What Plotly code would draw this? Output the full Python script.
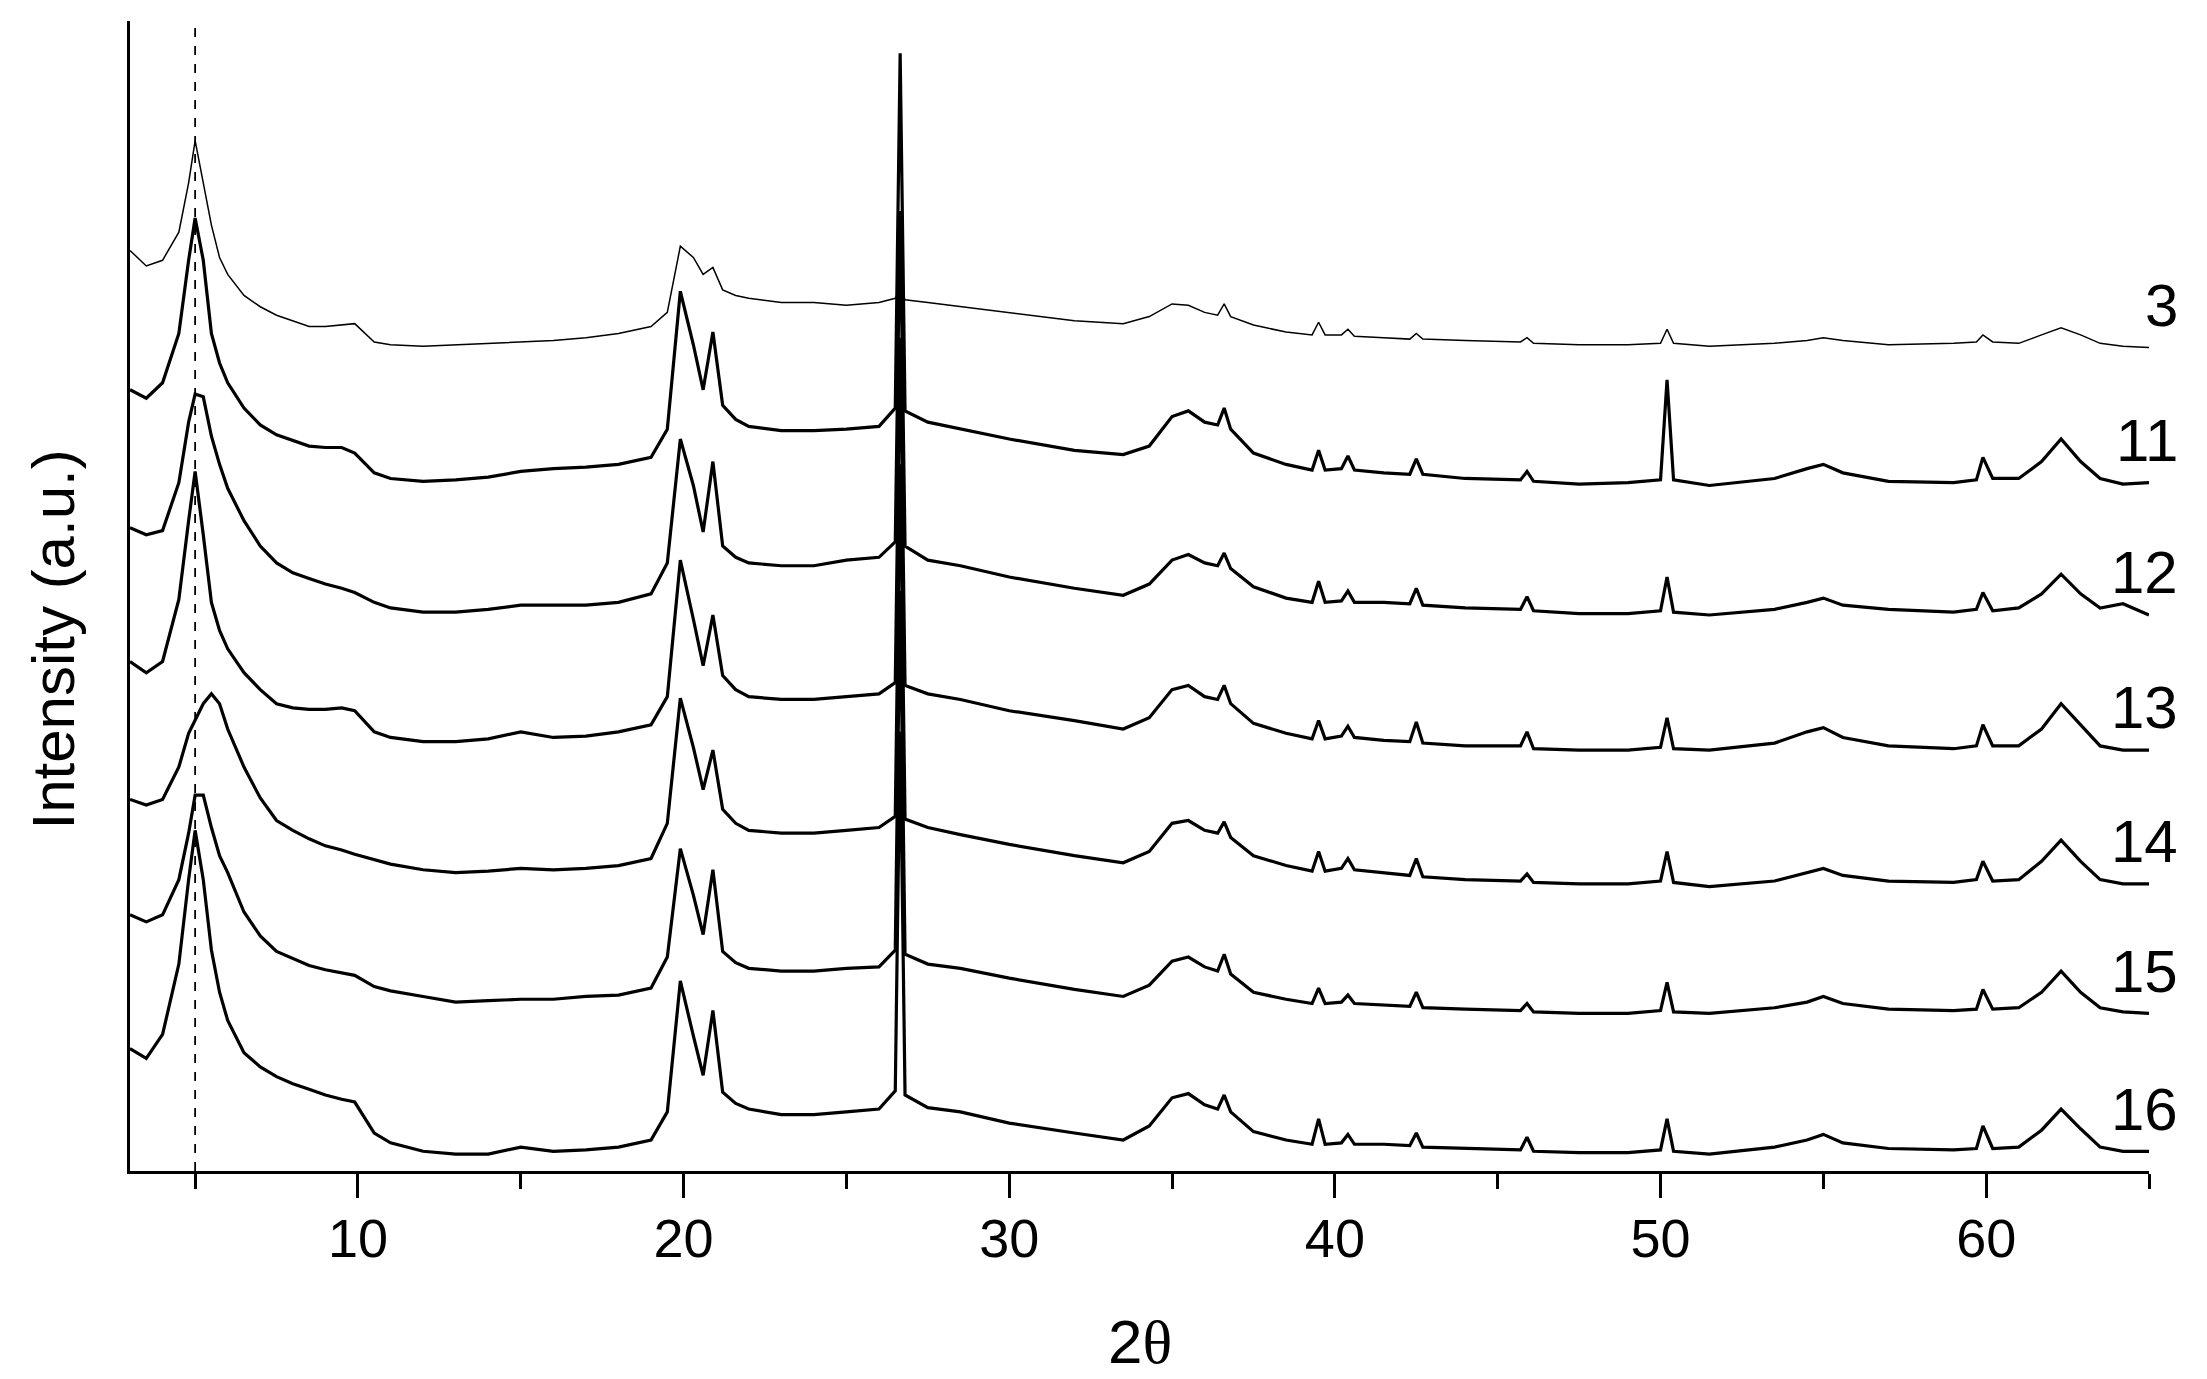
import plotly.graph_objects as go

# 2-theta positions (deg) shared by every pattern
two_theta = [3.0, 3.5, 4.0, 4.5, 4.8, 5.0, 5.25, 5.5, 5.75, 6.0,
             6.5, 7.0, 7.5, 8.0, 8.5, 9.0, 9.5, 9.9, 10.5, 11.0,
             12.0, 13.0, 14.0, 15.0, 16.0, 17.0, 18.0, 19.0,
             19.5, 19.9, 20.3, 20.6, 20.9, 21.2, 21.6, 22.0,
             23.0, 24.0, 25.0, 26.0,
             26.5, 26.65, 26.8,
             27.5, 28.5, 30.0, 32.0, 33.5, 34.3,
             35.0, 35.5, 36.0, 36.4, 36.6, 36.8,
             37.5, 38.5,
             39.3, 39.5, 39.7,
             40.2, 40.4, 40.6,
             41.5,
             42.3, 42.5, 42.7,
             44.0,
             45.7, 45.9, 46.1,
             47.5, 49.0,
             50.0, 50.2, 50.4,
             51.5, 53.5, 54.5, 55.0, 55.6, 57.0, 59.0,
             59.7, 59.9, 60.2,
             61.0, 61.7, 62.3, 62.9, 63.5, 64.2, 65.0]

# intensities (a.u.), above each pattern's own baseline
s3 = [69, 58, 62, 82, 117, 147, 117, 87, 64, 52,
      37, 29, 23, 19, 15, 15, 16, 17, 4, 2,
      1, 2, 3, 4, 5, 7, 10, 15,
      25, 72, 64, 52, 57, 41, 37, 35,
      32, 32, 30, 32,
      35, 42, 34,
      32, 29, 25, 19, 17, 22,
      31, 30, 25, 23, 31, 22,
      16, 11,
      9, 18, 9,
      9, 13, 8,
      7,
      6, 10, 6,
      5,
      4, 7, 3,
      2, 2,
      3, 13, 3,
      1, 3, 5, 7, 5, 2, 3,
      4, 9, 4,
      3, 9, 14, 9, 3, 1, 0]

s11 = [66, 60, 71, 106, 158, 188, 158, 106, 85, 71,
       53, 41, 34, 30, 26, 25, 25, 21, 7, 3,
       1, 2, 4, 8, 10, 11, 13, 18,
       38, 136, 98, 66, 107, 55, 45, 40,
       37, 37, 38, 40,
       53, 305, 51,
       43, 38, 31, 23, 20, 26,
       47, 51, 43, 41, 53, 38,
       21, 13,
       9, 23, 9,
       10, 19, 9,
       7,
       6, 17, 6,
       3,
       2, 8, 1,
       -1, 0,
       2, 73, 2,
       -2, 3, 10, 13, 7, 1, 0,
       2, 18, 3,
       3, 15, 31, 15, 3, -1, 0]

s12 = [62, 57, 60, 94, 137, 157, 155, 127, 107, 90,
       67, 49, 37, 30, 26, 22, 19, 16, 9, 5,
       2, 2, 4, 7, 7, 7, 9, 15,
       37, 125, 92, 59, 109, 49, 41, 37,
       35, 35, 39, 41,
       52, 287, 49,
       39, 35, 27, 19, 14, 22,
       39, 43, 37, 35, 44, 33,
       20, 12,
       9, 24, 9,
       10, 17, 9,
       9,
       8, 19, 7,
       5,
       4, 13, 3,
       1, 1,
       3, 27, 2,
       0, 4, 9, 12, 7, 4, 2,
       4, 16, 3,
       5, 15, 29, 15, 5, 8, 0]

s13 = [63, 55, 63, 107, 163, 198, 153, 105, 85, 72,
       55, 43, 33, 30, 29, 29, 30, 28, 13, 9,
       6, 6, 8, 13, 9, 10, 13, 18,
       38, 135, 93, 60, 96, 53, 43, 38,
       36, 36, 38, 40,
       48, 293, 46,
       40, 36, 28, 21, 15, 23,
       43, 46, 38, 36, 46, 33,
       19, 12,
       8, 21, 8,
       10, 17, 9,
       7,
       6, 20, 5,
       3,
       3, 13, 1,
       0, 0,
       2, 23, 1,
       0, 5, 13, 16, 9, 3, 1,
       3, 18, 3,
       3, 15, 33, 18, 3, 0, 0]

s14 = [60, 56, 60, 83, 107, 116, 128, 135, 128, 110,
       83, 61, 45, 38, 32, 27, 24, 21, 17, 14,
       10, 8, 9, 11, 10, 11, 13, 18,
       43, 132, 97, 67, 95, 53, 43, 38,
       36, 36, 38, 40,
       48, 298, 46,
       40, 35, 28, 20, 15, 23,
       43, 45, 38, 36, 44, 33,
       20, 13,
       9, 23, 9,
       11, 18, 10,
       8,
       6, 18, 5,
       3,
       2, 7, 1,
       0, 0,
       2, 23, 1,
       -2, 2, 8, 11, 6, 2, 1,
       3, 16, 2,
       3, 16, 31, 16, 3, 0, 0]

s15 = [70, 65, 70, 95, 128, 155, 155, 132, 112, 100,
       72, 55, 44, 39, 34, 31, 29, 27, 19, 16,
       12, 8, 9, 10, 10, 12, 13, 18,
       40, 117, 84, 56, 102, 44, 36, 32,
       30, 30, 32, 33,
       45, 300, 42,
       35, 32, 25, 17, 12, 20,
       37, 40, 33, 30, 42, 28,
       15, 10,
       7, 18, 7,
       8, 13, 7,
       6,
       5, 15, 4,
       3,
       2, 7, 1,
       0, 0,
       2, 22, 1,
       0, 4, 8, 12, 7, 3, 2,
       3, 17, 3,
       4, 15, 30, 15, 4, 1, 0]

s16 = [73, 66, 83, 133, 193, 228, 193, 143, 113, 93,
       70, 60, 53, 48, 44, 40, 37, 35, 13, 6,
       0, -2, -2, 3, 0, 1, 3, 8,
       28, 121, 82, 54, 100, 42, 34, 30,
       26, 26, 28, 30,
       43, 298, 40,
       31, 28, 20, 13, 8, 18,
       38, 41, 33, 30, 40, 28,
       14, 8,
       5, 23, 5,
       6, 12, 5,
       5,
       4, 13, 3,
       2,
       1, 10, 0,
       -1, -1,
       1, 23, 0,
       -2, 3, 8, 12, 6, 2, 1,
       2, 18, 2,
       3, 15, 30, 16, 3, 0, 0]

sample_names = ["3", "11", "12", "13", "14", "15", "16"]
patterns = [s3, s11, s12, s13, s14, s15, s16]
offsets = [585, 489, 395, 299, 204, 112, 14]
line_widths = [1.5, 3.2, 3.2, 3.2, 3.2, 3.2, 3.2]

fig = go.Figure()
for name, ys, off, lw in zip(sample_names, patterns, offsets, line_widths):
    fig.add_trace(go.Scatter(
        x=two_theta, y=[v + off for v in ys],
        mode="lines", name=name,
        line=dict(color="black", width=lw),
        showlegend=False, hoverinfo="skip"))
    fig.add_annotation(
        x=1.0153, xref="paper", xanchor="right",
        y=off + 30, yref="y", yanchor="middle",
        text=name, showarrow=False,
        font=dict(size=60, color="black"))

# reference line at the basal reflection
fig.add_shape(type="line", x0=5, x1=5, xref="x", y0=0, y1=1, yref="paper",
              line=dict(color="black", width=1.8, dash="dash"))

fig.add_annotation(
    x=0.5, xref="paper", xanchor="center",
    y=-0.148, yref="paper", yanchor="middle",
    text="2<span style='font-family:\"Liberation Serif\"'>θ</span>",
    showarrow=False, font=dict(size=62, color="black"))
fig.add_annotation(
    x=-0.0379, xref="paper", xanchor="center",
    y=0.4626, yref="paper", yanchor="middle",
    text="Intensity (a.u.)", textangle=-90, showarrow=False,
    font=dict(size=60, color="black"))

fig.update_layout(
    width=2207, height=1379,
    margin=dict(l=122, r=66, t=13, b=216),
    paper_bgcolor="white", plot_bgcolor="white",
    font=dict(family="Liberation Sans, Arial, sans-serif", color="black"),
    xaxis=dict(
        range=[3, 65], tick0=0, dtick=10,
        showline=True, linecolor="black", linewidth=3,
        ticks="outside", ticklen=24, tickwidth=2.5, tickcolor="black",
        tickfont=dict(size=54), ticklabelstandoff=-6,
        minor=dict(dtick=5, tick0=0, ticks="outside", ticklen=15,
                   tickwidth=2.5, tickcolor="black"),
        showgrid=False, zeroline=False),
    yaxis=dict(
        range=[0, 817], showline=True, linecolor="black", linewidth=3,
        showticklabels=False, ticks="", showgrid=False, zeroline=False),
)

fig.write_html("out.html")
